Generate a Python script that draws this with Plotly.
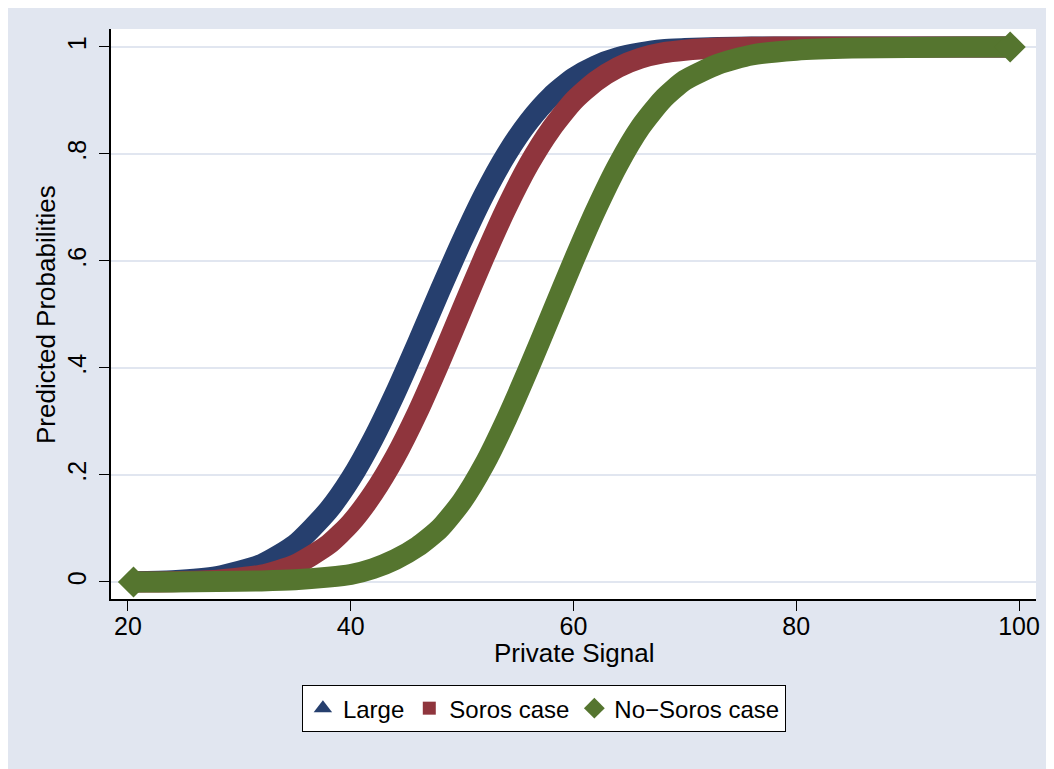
import plotly.graph_objects as go

# ---- data ----
signal = [20.5, 24, 28, 32, 35, 38, 40, 42, 44, 46, 48, 50, 52, 54, 56, 58,
          60, 62, 64, 66, 68, 70, 73, 76, 80, 85, 90, 95, 99.2]

large = [0.0006, 0.0024, 0.0099, 0.033, 0.070, 0.134, 0.193, 0.267, 0.353, 0.447,
         0.544, 0.638, 0.725, 0.800, 0.861, 0.908, 0.942, 0.965, 0.980, 0.989,
         0.995, 0.997, 0.999, 1.0, 1.0, 1.0, 1.0, 1.0, 1.0]

soros = [0.0001, 0.0006, 0.0032, 0.013, 0.032, 0.070, 0.110, 0.165, 0.234, 0.317,
         0.411, 0.510, 0.608, 0.700, 0.781, 0.847, 0.899, 0.936, 0.962, 0.979,
         0.989, 0.994, 0.998, 0.9995, 1.0, 1.0, 1.0, 1.0, 1.0]

no_soros = [0.0, 0.0, 0.001, 0.002, 0.004, 0.009, 0.014, 0.025, 0.042, 0.066,
            0.100, 0.151, 0.220, 0.305, 0.400, 0.500, 0.600, 0.695, 0.780, 0.850,
            0.902, 0.938, 0.968, 0.985, 0.994, 0.998, 0.999, 1.0, 1.0]

series_names = ["Large", "Soros case", "No\u2212Soros case"]
x_ticks = [20, 40, 60, 80, 100]
y_ticks = [0, 0.2, 0.4, 0.6, 0.8, 1]
y_ticktext = ["0", ".2", ".4", ".6", ".8", "1"]

# ---- styling ----
colors = ["#263F6E", "#8F353D", "#55752F"]
symbols = ["triangle-up", "square", "diamond"]
BG = "#E1E6F0"
FONT = "Liberation Sans, Arial, sans-serif"

fig = go.Figure()
for name, ys, col in zip(series_names, [large, soros, no_soros], colors):
    fig.add_trace(go.Scatter(
        x=signal, y=ys, mode="lines", showlegend=False,
        line=dict(color=col, width=21, shape="spline", smoothing=0.6),
        hoverinfo="skip"))

# diamond tips at both ends of the No-Soros series (visible in the reference)
fig.add_trace(go.Scatter(
    x=[signal[0], signal[-1]], y=[no_soros[0], no_soros[-1]], mode="markers",
    showlegend=False, hoverinfo="skip",
    marker=dict(symbol="diamond", size=24, color=colors[2], opacity=1,
                line=dict(width=0))))

legend_sizes = [16, 13, 17]
for name, col, sym, sz in zip(series_names, colors, symbols, legend_sizes):
    fig.add_trace(go.Scatter(
        x=[None], y=[None], mode="markers", name=name,
        marker=dict(symbol=sym, size=sz, color=col, line=dict(width=0))))

fig.update_layout(
    width=1054, height=769,
    margin=dict(l=103, r=26, t=21, b=178),
    paper_bgcolor=BG, plot_bgcolor="white",
    font=dict(family=FONT, color="black", size=25),
    xaxis=dict(range=[18.48, 101.52], tickvals=x_ticks, ticks="outside", ticklen=10,
               tickwidth=1.3, tickcolor="black", showline=True, linecolor="black",
               linewidth=1.5, showgrid=False, zeroline=False, ticklabelstandoff=-6,
               tickfont=dict(size=25, family=FONT)),
    yaxis=dict(range=[-0.0318, 1.0336], tickvals=y_ticks, ticktext=y_ticktext,
               ticks="outside", ticklen=10, tickwidth=1.3, tickcolor="black",
               showline=True, linecolor="black", linewidth=1.5,
               showgrid=True, gridcolor=BG, gridwidth=2, zeroline=False,
               tickangle=-90, ticklabelstandoff=3, tickfont=dict(size=25, family=FONT)),
    legend=dict(orientation="h", x=0.468, xanchor="center", y=-0.151, yanchor="top",
                bgcolor="white", bordercolor="black", borderwidth=1,
                font=dict(size=24, family=FONT), itemsizing="trace"),
    annotations=[
        dict(text="Private Signal", xref="paper", yref="paper", x=0.5, y=-0.0947,
             xanchor="center", yanchor="middle", showarrow=False,
             font=dict(size=26, family=FONT)),
        dict(text="Predicted Probabilities", xref="paper", yref="paper", x=-0.0703, y=0.5,
             xanchor="center", yanchor="middle", textangle=-90, showarrow=False,
             font=dict(size=26, family=FONT)),
    ],
)

fig.write_html("out.html")
